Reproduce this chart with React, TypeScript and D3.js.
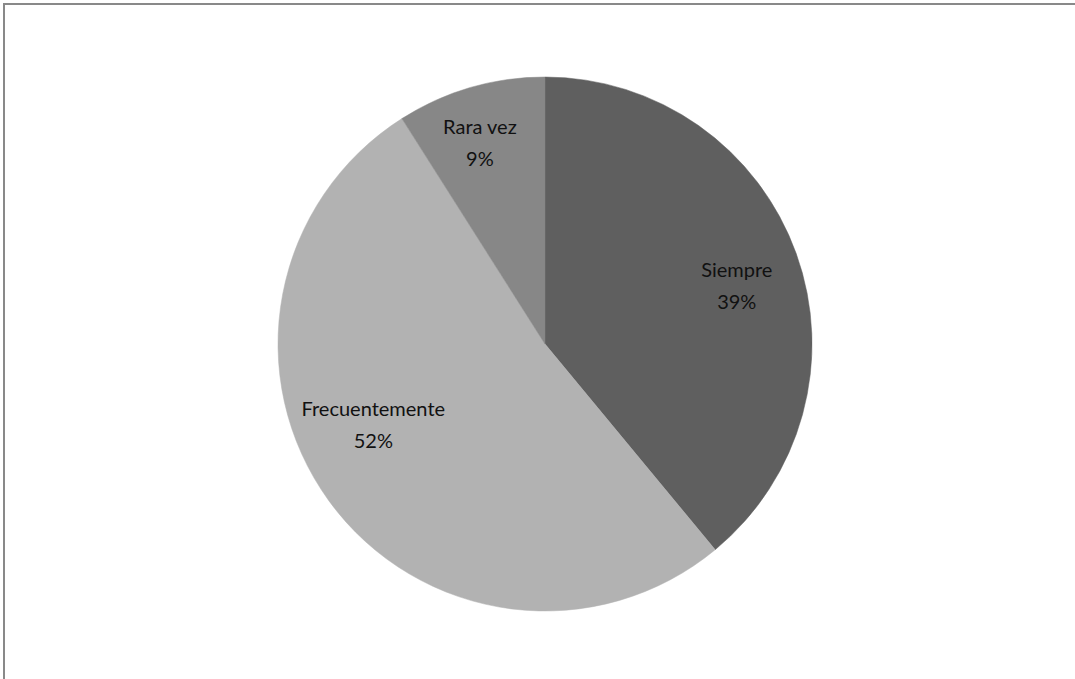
import React from "react";
import * as d3 from "d3";

const categories = ["Siempre", "Frecuentemente", "Rara vez"];
const values = [39, 52, 9];
const labels = ["39%", "52%", "9%"];

const colors = ["#5f5f5f", "#b2b2b2", "#878787"];
// label placement tweaks (layout only): radius and angle shift (degrees)
const labelRadius = [201, 189, 213];
const labelAngleShift = [2.4, 11.3, -1.6];

export default function App() {
  const W = 1075, H = 679;
  const cx = 545, cy = 344, r = 267;
  const pie = d3.pie<number>().sort(null).value((d) => d);
  const arcs = pie(values);
  const arc = d3.arc<d3.PieArcDatum<number>>().innerRadius(0).outerRadius(r);
  return (
    <svg width={W} height={H} style={{ position: "absolute", left: 0, top: 0 }}>
      <rect x={0} y={0} width={W} height={H} fill="#fff" />
      <rect x={4} y={4} width={W + 10} height={H + 10} fill="#fff" stroke="#898989" strokeWidth={2} />
      <g transform={`translate(${cx},${cy})`}>
        {arcs.map((a, i) => (
          <path key={categories[i]} d={arc(a) || ""} fill={colors[i]} stroke={colors[i]} strokeWidth={0.5} />
        ))}
        {arcs.map((a, i) => {
          const mid = (a.startAngle + a.endAngle) / 2 + (labelAngleShift[i] * Math.PI) / 180;
          const x = labelRadius[i] * Math.sin(mid);
          const y = -labelRadius[i] * Math.cos(mid);
          return (
            <text key={"l" + i} x={x} y={y} textAnchor="middle" fontFamily="Lato, 'Open Sans', sans-serif" fontSize={20} fill="#111">
              <tspan x={x} dy={-7}>{categories[i]}</tspan>
              <tspan x={x} dy={32}>{labels[i]}</tspan>
            </text>
          );
        })}
      </g>
    </svg>
  );
}
